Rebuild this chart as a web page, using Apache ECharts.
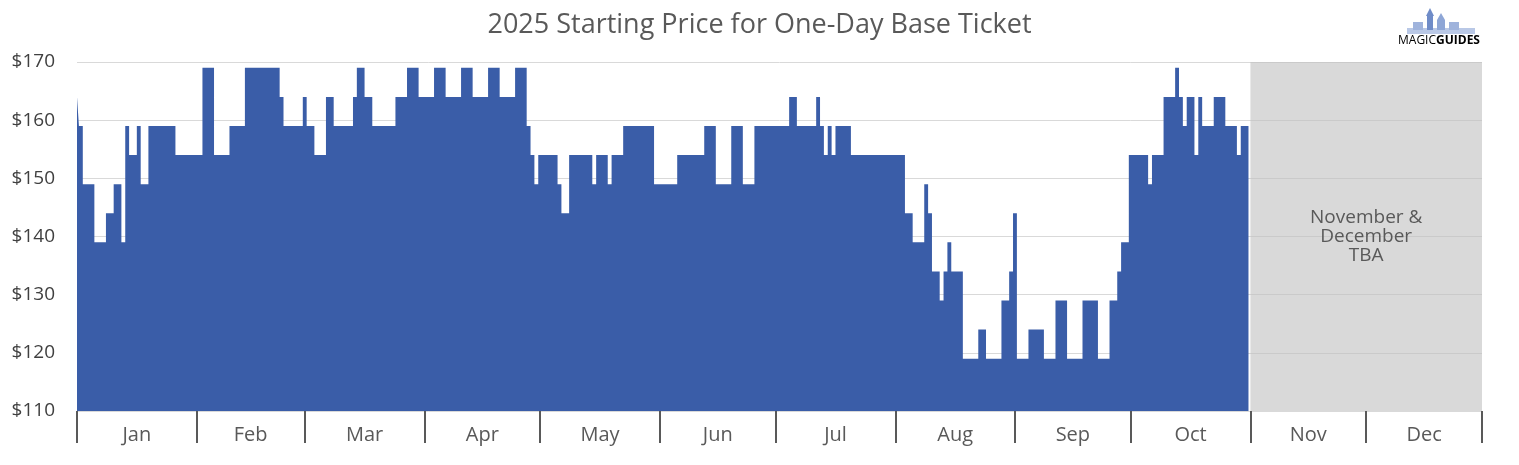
<!DOCTYPE html>
<html>
<head>
<meta charset="utf-8">
<script src="https://cdn.jsdelivr.net/npm/echarts@6/dist/echarts.min.js"></script>
<style>
html,body{margin:0;padding:0;background:#fff;}
#chart{width:1519px;height:465px;}
</style>
</head>
<body>
<div id="chart"></div>
<script>
// Daily starting prices (USD), Jan 1 .. Oct 31, 2025
const jan = [164,159,149,149,149,139,139,139,144,144,149,149,139,159,154,154,159,149,149,159,159,159,159,159,159,159,154,154,154,154,154];
const feb = [154,154,169,169,169,154,154,154,154,159,159,159,159,169,169,169,169,169,169,169,169,169,164,159,159,159,159,159];
const mar = [164,159,159,154,154,154,164,164,159,159,159,159,159,164,169,169,164,164,159,159,159,159,159,159,164,164,164,169,169,169,164];
const apr = [164,164,164,169,169,169,164,164,164,164,169,169,169,164,164,164,164,169,169,169,164,164,164,164,169,169,169,159,154,149];
const may = [154,154,154,154,154,149,144,144,154,154,154,154,154,154,149,154,154,154,149,154,154,154,159,159,159,159,159,159,159,159,149];
const jun = [149,149,149,149,149,154,154,154,154,154,154,154,159,159,159,149,149,149,149,159,159,159,149,149,149,159,159,159,159,159];
const jul = [159,159,159,159,164,164,159,159,159,159,159,164,159,154,159,154,159,159,159,159,154,154,154,154,154,154,154,154,154,154,154];
const aug = [154,154,154,144,144,139,139,139,149,144,134,134,129,134,139,134,134,134,119,119,119,119,124,124,119,119,119,119,129,129,134];
const sep = [144,119,119,119,124,124,124,124,119,119,119,129,129,129,119,119,119,119,129,129,129,129,119,119,119,129,129,134,139,139];
const oct = [154,154,154,154,154,149,154,154,154,164,164,164,169,164,159,164,164,154,164,159,159,159,164,164,164,159,159,159,154,159,159];

const monthNames = ['Jan','Feb','Mar','Apr','May','Jun','Jul','Aug','Sep','Oct','Nov','Dec'];
const monthStarts = [0,31,59,90,120,151,181,212,243,273,304,334,364];
const yTicks = [110,120,130,140,150,160,170];

const prices = [].concat(jan,feb,mar,apr,may,jun,jul,aug,sep,oct);
// each day's value holds from half a day before to half a day after its date
const pts = prices.map((v,i)=>[i===0?0:i-0.5, v]);
pts.push([prices.length-0.5, prices[prices.length-1]]);

const monthMids = monthNames.map((m,i)=>(monthStarts[i]+monthStarts[i+1])/2);

const chart = echarts.init(document.getElementById('chart'));
chart.setOption({
  animation:false,
  backgroundColor:'#ffffff',
  title:{
    text:'2025 Starting Price for One-Day Base Ticket',
    left:'center', top:7,
    textStyle:{fontFamily:'Open Sans', fontSize:27, fontWeight:'normal', color:'#595959'}
  },
  grid:{left:77, right:37, top:62, bottom:54},
  xAxis:{
    type:'value', min:0, max:364,
    axisLine:{show:false},
    splitLine:{show:false},
    axisTick:{show:true, customValues:monthStarts, length:32, lineStyle:{color:'#595959', width:2}},
    axisLabel:{
      customValues:monthMids, margin:14,
      fontFamily:'Open Sans', fontSize:20, color:'#595959',
      formatter:function(v){
        let best=0, d=1e9;
        monthMids.forEach((m,i)=>{ if(Math.abs(m-v)<d){d=Math.abs(m-v);best=i;} });
        return monthNames[best];
      }
    }
  },
  yAxis:{
    type:'value', min:yTicks[0], max:yTicks[yTicks.length-1], interval:10,
    axisLine:{show:false}, axisTick:{show:false},
    splitLine:{lineStyle:{color:'#d9d9d9', width:1}},
    axisLabel:{margin:22, fontFamily:'Open Sans', fontSize:19, color:'#404040', formatter:v=>'$'+v}
  },
  series:[{
    type:'line',
    step:'end',
    data:pts,
    showSymbol:false,
    lineStyle:{width:0, opacity:0},
    areaStyle:{color:'#3A5DA8', opacity:1, origin:'start'},
    markArea:{
      silent:true,
      itemStyle:{color:'rgba(191,191,191,0.6)'},
      label:{
        show:true, position:'inside',
        formatter:'November &\nDecember\nTBA',
        fontFamily:'Open Sans', fontSize:19, lineHeight:19, color:'#595959',
        align:'center'
      },
      data:[[{xAxis:monthStarts[10]},{xAxis:monthStarts[12]}]]
    }
  }],
  graphic:[
    {type:'group', left:1398, top:8, children:[
      {type:'rect', shape:{x:10,y:18,width:68,height:6}, style:{fill:'#b9c8e6'}},
      {type:'rect', shape:{x:16,y:12,width:10,height:8}, style:{fill:'#9fb3dc'}},
      {type:'rect', shape:{x:30,y:6,width:6,height:14}, style:{fill:'#6f8cc8'}},
      {type:'polygon', shape:{points:[[29,6],[33,-2],[37,6]]}, style:{fill:'#6f8cc8'}},
      {type:'rect', shape:{x:40,y:10,width:8,height:10}, style:{fill:'#8ea6d6'}},
      {type:'polygon', shape:{points:[[40,10],[44,3],[48,10]]}, style:{fill:'#8ea6d6'}},
      {type:'rect', shape:{x:52,y:12,width:10,height:8}, style:{fill:'#9fb3dc'}},
      {type:'text', x:1, y:25, style:{
        text:'{a|MAGIC}{b|GUIDES}',
        rich:{
          a:{fontFamily:'Open Sans', fontSize:12, color:'#6f8cc8'},
          b:{fontFamily:'Open Sans', fontSize:12, fontWeight:'bold', color:'#1f3a7a'}
        }
      }}
    ]}
  ]
});
</script>
</body>
</html>
